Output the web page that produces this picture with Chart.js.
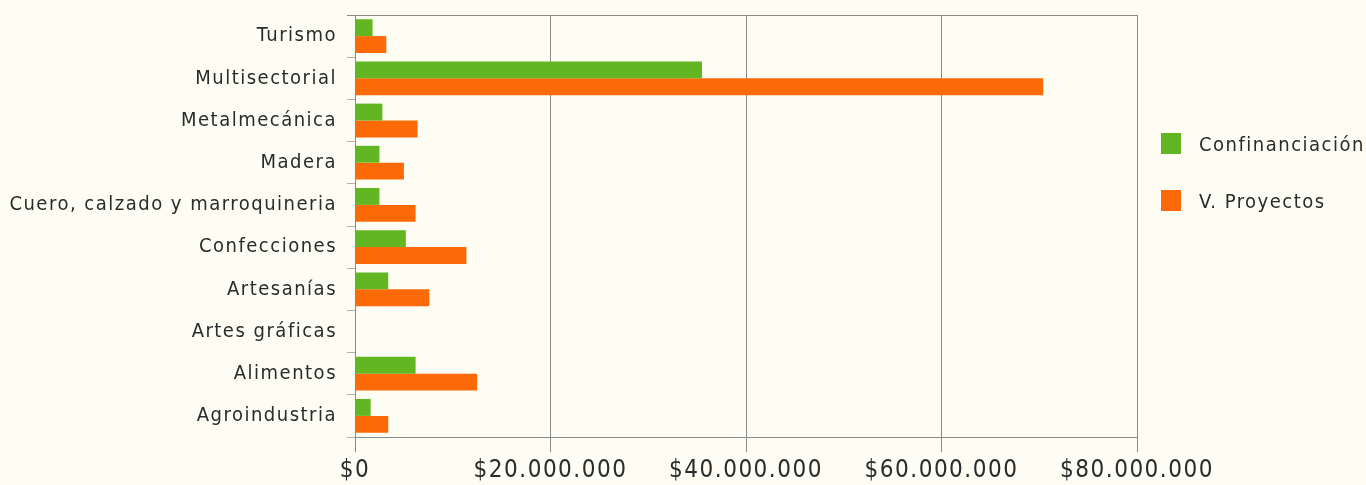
<!DOCTYPE html>
<html>
<head>
<meta charset="utf-8">
<script src="https://cdn.jsdelivr.net/npm/chart.js@4"></script>
<style>
    html, body {
        margin: 0;
        padding: 0;
        background: #fdfdf4;
    }
    .wrap {
        position: relative;
        width: 1366px;
        height: 485px;
    }
    .legend {
        position: absolute;
        left: 1161px;
        top: 133px;
        font-family: "DejaVu Sans Condensed", "DejaVu Sans", sans-serif;
        font-size: 20px;
        letter-spacing: 1.5px;
        color: #2b2b2b;
    }
    .legend__item {
        display: flex;
        align-items: center;
        height: 21px;
        margin-bottom: 36px;
    }
    .legend__box {
        width: 20px;
        height: 21px;
        margin-right: 18px;
    }
</style>
</head>
<body>
<div class="wrap">
    <canvas id="chart" width="1366" height="485"></canvas>
    <div class="legend" id="legend"></div>
</div>

<script>
const sectores = ['Turismo', 'Multisectorial', 'Metalmecánica', 'Madera', 'Cuero, calzado y marroquineria',
    'Confecciones', 'Artesanías', 'Artes gráficas', 'Alimentos', 'Agroindustria'];

// millones de pesos
const cofinanciacion = [1.8, 35.5, 2.8, 2.5, 2.5, 5.2, 3.4, 0, 6.2, 1.6];
const valorProyectos = [3.2, 70.4, 6.4, 5.0, 6.2, 11.4, 7.6, 0, 12.5, 3.4];

const xTicks = [0, 20, 40, 60, 80];

const FONT = '"DejaVu Sans Condensed", "DejaVu Sans", sans-serif';

function pesos(v) {
    return '$' + String(Math.round(v)).replace(/\B(?=(\d{3})+(?!\d))/g, '.');
}

// letras un poco separadas, como en el original impreso
const spacing = {
    id: 'spacing',
    beforeLayout(chart) { chart.ctx.letterSpacing = '1.5px'; },
    beforeDraw(chart) { chart.ctx.letterSpacing = '1.5px'; }
};

// linea superior del marco
const frame = {
    id: 'frame',
    afterDraw(chart) {
        const a = chart.chartArea;
        const c = chart.ctx;
        c.save();
        c.strokeStyle = '#8a8a8a';
        c.lineWidth = 1;
        c.beginPath();
        c.moveTo(a.left - 8, Math.round(a.top) + 0.5);
        c.lineTo(a.right, Math.round(a.top) + 0.5);
        c.stroke();
        c.restore();
    }
};

function noPadding(scale) {
    scale.paddingTop = 0;
    scale.paddingBottom = 0;
    scale.paddingLeft = 0;
    scale.paddingRight = 0;
}

var ctx = document.getElementById('chart').getContext('2d');
var chart = new Chart(ctx, {
    type: 'bar',
    data: {
        labels: sectores,
        datasets: [{
            label: 'Confinanciación',
            data: cofinanciacion.map(v => v * 1e6),
            backgroundColor: '#62b622'
        }, {
            label: 'V. Proyectos',
            data: valorProyectos.map(v => v * 1e6),
            backgroundColor: '#fb6a06'
        }]
    },
    options: {
        indexAxis: 'y',
        responsive: false,
        animation: false,
        categoryPercentage: 0.8,
        barPercentage: 1.0,
        layout: {
            padding: { top: 15, right: 229, left: 0, bottom: 0 }
        },
        scales: {
            x: {
                min: xTicks[0] * 1e6,
                max: xTicks[xTicks.length - 1] * 1e6,
                afterBuildTicks: (scale) => {
                    scale.ticks = xTicks.map(v => ({ value: v * 1e6 }));
                },
                afterFit: (scale) => {
                    scale.height = 48;
                    noPadding(scale);
                },
                grid: {
                    color: '#8a8a8a',
                    tickLength: 15,
                    lineWidth: 1
                },
                border: { color: '#8a8a8a' },
                ticks: {
                    padding: 4,
                    color: '#2b2b2b',
                    font: { family: FONT, size: 24 },
                    callback: (value) => pesos(value)
                }
            },
            y: {
                afterFit: (scale) => {
                    scale.width = 355;
                    noPadding(scale);
                },
                grid: {
                    color: '#b0b0b0',
                    drawOnChartArea: false,
                    tickLength: 8
                },
                border: { color: '#8a8a8a' },
                ticks: {
                    padding: 10,
                    color: '#2b2b2b',
                    font: { family: FONT, size: 20 }
                }
            }
        },
        plugins: {
            legend: { display: false },
            tooltip: { enabled: false }
        }
    },
    plugins: [spacing, frame]
});

// leyenda a la derecha
const legend = document.getElementById('legend');
chart.data.datasets.forEach(function(ds) {
    const item = document.createElement('div');
    item.className = 'legend__item';
    const box = document.createElement('span');
    box.className = 'legend__box';
    box.style.background = ds.backgroundColor;
    const txt = document.createElement('span');
    txt.textContent = ds.label;
    item.appendChild(box);
    item.appendChild(txt);
    legend.appendChild(item);
});
</script>
</body>
</html>
